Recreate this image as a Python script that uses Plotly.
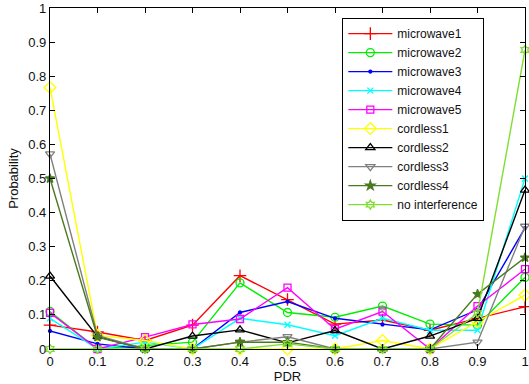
import plotly.graph_objects as go

pdr = [0, 0.1, 0.2, 0.3, 0.4, 0.5, 0.6, 0.7, 0.8, 0.9, 1.0]

microwave1 = [0.07, 0.05, 0.025, 0.07, 0.215, 0.145, 0.073, 0.085, 0.055, 0.09, 0.124]
microwave2 = [0.11, 0.0, 0.01, 0.02, 0.194, 0.107, 0.093, 0.126, 0.073, 0.07, 0.21]
microwave3 = [0.053, 0.015, 0.0, 0.0, 0.107, 0.139, 0.09, 0.072, 0.056, 0.115, 0.355]
microwave4 = [0.09, 0.0, 0.02, 0.0, 0.09, 0.071, 0.039, 0.09, 0.055, 0.055, 0.50]
microwave5 = [0.106, 0.0, 0.035, 0.072, 0.088, 0.18, 0.058, 0.11, 0.0, 0.126, 0.234]
cordless1 = [0.767, 0.04, 0.025, 0.0, 0.0, 0.0, 0.0, 0.025, 0.0, 0.08, 0.158]
cordless2 = [0.214, 0.036, 0.0, 0.038, 0.056, 0.018, 0.054, 0.0, 0.038, 0.09, 0.466]
cordless3 = [0.572, 0.04, 0.0, 0.0, 0.02, 0.036, 0.0, 0.0, 0.0, 0.02, 0.36]
cordless4 = [0.50, 0.035, 0.0, 0.0, 0.02, 0.02, 0.0, 0.0, 0.0, 0.161, 0.268]
no_interference = [0.0, 0.0, 0.0, 0.0, 0.0, 0.015, 0.0, 0.0, 0.0, 0.105, 0.877]

x_ticks = [0, 0.1, 0.2, 0.3, 0.4, 0.5, 0.6, 0.7, 0.8, 0.9, 1]
x_ticklabels = ["0", "0.1", "0.2", "0.3", "0.4", "0.5", "0.6", "0.7", "0.8", "0.9", "1"]
y_ticks = [0, 0.1, 0.2, 0.3, 0.4, 0.5, 0.6, 0.7, 0.8, 0.9, 1]
y_ticklabels = ["0", "0.1", "0.2", "0.3", "0.4", "0.5", "0.6", "0.7", "0.8", "0.9", "1"]

series = [
    ("microwave1", microwave1, "#ff0000", "cross-thin-open", 9),
    ("microwave2", microwave2, "#00ee00", "circle-open", 8),
    ("microwave3", microwave3, "#0000ff", "circle", 3),
    ("microwave4", microwave4, "#00ffff", "x-thin-open", 6),
    ("microwave5", microwave5, "#ff00ff", "square-open", 7),
    ("cordless1", cordless1, "#ffff00", "diamond-open", 9),
    ("cordless2", cordless2, "#000000", "triangle-up-open", 8),
    ("cordless3", cordless3, "#808080", "triangle-down-open", 8),
    ("cordless4", cordless4, "#4a7a1e", "star", 7),
    ("no interference", no_interference, "#7fdf30", "hexagram-open", 7),
]

fig = go.Figure()
for name, vals, color, sym, size in series:
    fig.add_trace(go.Scatter(
        x=pdr, y=vals, name=name, mode="lines+markers",
        line=dict(color=color, width=1.4),
        marker=dict(symbol=sym, size=size, color=color,
                    line=dict(color=color, width=1.3)),
        cliponaxis=False,
    ))

font_family = "Liberation Sans, Arial, Helvetica, sans-serif"
fig.update_layout(
    width=529, height=384,
    margin=dict(l=50, r=4, t=8, b=35, autoexpand=False),
    paper_bgcolor="white", plot_bgcolor="white",
    font=dict(family=font_family, size=13, color="#111111"),
    showlegend=True,
    legend=dict(
        x=0.615, y=0.971, xanchor="left", yanchor="top",
        bgcolor="white", bordercolor="black", borderwidth=1.2,
        font=dict(size=12, color="#111111"),
        itemwidth=44, tracegroupgap=0,
    ),
    xaxis=dict(
        range=[0, 1], tickvals=x_ticks, ticktext=x_ticklabels,
        ticks="inside", ticklen=5, tickcolor="black",
        showline=True, linecolor="black", linewidth=1.2, mirror="ticks",
        showgrid=False, zeroline=False,
        title=dict(text="PDR", standoff=2, font=dict(size=13)),
    ),
    yaxis=dict(
        range=[0, 1], tickvals=y_ticks, ticktext=y_ticklabels,
        ticks="inside", ticklen=5, tickcolor="black",
        showline=True, linecolor="black", linewidth=1.2, mirror="ticks",
        showgrid=False, zeroline=False,
        title=dict(text="Probability", standoff=6, font=dict(size=13)),
    ),
)

fig.write_html("out.html", config={"displayModeBar": False},
               post_script="document.body.style.margin='0';")
